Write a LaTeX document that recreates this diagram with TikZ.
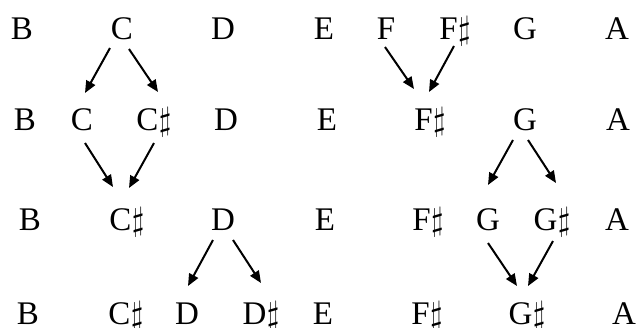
\RequirePackage{fix-cm}
\documentclass[tikz,border=0pt]{standalone}
\usepackage{fontspec}
\setmainfont{Liberation Serif}
\usetikzlibrary{calc,arrows.meta}
\newcommand{\shp}{\kern0.5pt$\sharp$}
\begin{document}
\begin{tikzpicture}[x=1pt,y=-1pt,
  note/.style={inner sep=0pt,anchor=base,font=\fontsize{33}{40}\selectfont},
  arr/.style={line width=2pt,-{Triangle[length=12pt,width=10pt]}}]
\useasboundingbox (0,0) rectangle (636,327);
% row 1
\node[note] (b1) at (22,39) {B};
\node[note] (c1) at (122,39) {C};
\node[note] (d1) at (223,39) {D};
\node[note] (e1) at (324,39) {E};
\node[note] (f1) at (386,39) {F};
\node[note] (fs1) at (455,39) {F\shp};
\node[note] (g1) at (525,39) {G};
\node[note] (a1) at (617,39) {A};
% row 2
\node[note] (b2) at (25,130) {B};
\node[note] (c2) at (82,130) {C};
\node[note] (cs2) at (154,130) {C\shp};
\node[note] (d2) at (226,130) {D};
\node[note] (e2) at (327,130) {E};
\node[note] (fs2) at (430,130) {F\shp};
\node[note] (g2) at (525,130) {G};
\node[note] (a2) at (618,130) {A};
% row 3
\node[note] (b3) at (30,230) {B};
\node[note] (cs3) at (127,230) {C\shp};
\node[note] (d3) at (223,230) {D};
\node[note] (e3) at (325,230) {E};
\node[note] (fs3) at (428,230) {F\shp};
\node[note] (g3) at (488,230) {G};
\node[note] (gs3) at (552,230) {G\shp};
\node[note] (a3) at (617,230) {A};
% row 4
\node[note] (b4) at (28,324) {B};
\node[note] (cs4) at (126,324) {C\shp};
\node[note] (d4) at (187,324) {D};
\node[note] (ds4) at (261,324) {D\shp};
\node[note] (e4) at (323,324) {E};
\node[note] (fs4) at (427,324) {F\shp};
\node[note] (gs4) at (527,324) {G\shp};
\node[note] (a4) at (624,324) {A};
% arrows
\draw[arr] ($(c1.base)+(-12,9)$) -- ($(c2.base)+(3,-37)$);
\draw[arr] ($(c1.base)+(7,10)$) -- ($(cs2.base)+(4,-38)$);
\draw[arr] ($(c2.base)+(3,13)$) -- ($(cs3.base)+(-14,-43)$);
\draw[arr] ($(cs2.base)+(0,13)$) -- ($(cs3.base)+(2,-42)$);
\draw[arr] ($(d3.base)+(-10,10)$) -- ($(d4.base)+(1,-38)$);
\draw[arr] ($(d3.base)+(10,10)$) -- ($(ds4.base)+(0,-41)$);
\draw[arr] ($(f1.base)+(-1,8)$) -- ($(fs2.base)+(-16,-41)$);
\draw[arr] ($(fs1.base)+(-1,7)$) -- ($(fs2.base)+(-1,-38)$);
\draw[arr] ($(g2.base)+(-12,10)$) -- ($(g3.base)+(0,-45)$);
\draw[arr] ($(g2.base)+(3,10)$) -- ($(gs3.base)+(4,-47)$);
\draw[arr] ($(g3.base)+(0,13)$) -- ($(gs4.base)+(-10,-38)$);
\draw[arr] ($(gs3.base)+(1,11)$) -- ($(gs4.base)+(1,-38)$);
\end{tikzpicture}
\end{document}
